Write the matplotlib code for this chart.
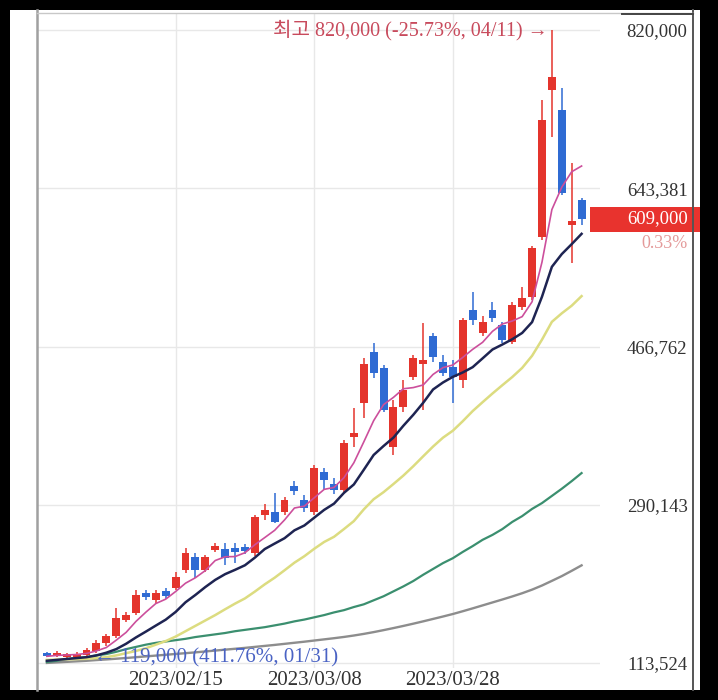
import numpy as np
import pandas as pd
import matplotlib
matplotlib.use('Agg')
import matplotlib.pyplot as plt
import matplotlib.transforms as mtransforms
from matplotlib.patches import Rectangle
from matplotlib.lines import Line2D

plt.rcParams['font.family'] = ['Liberation Serif', 'Noto Sans CJK KR', 'DejaVu Serif']

# trading days shown (03/01 is a market holiday)
dates = pd.bdate_range('2023-01-27', '2023-04-14')
dates = dates[dates != pd.Timestamp('2023-03-01')]

# daily candles, in thousand won
opens = [123.5, 121.5, 121.0, 120.5, 122.5, 127.0, 135.9, 143.7, 161.6, 169.4, 191.7, 183.9, 193.9, 197.3,
         217.4, 231.9, 217.4, 239.7, 240.8, 241.9, 243.0, 236.3, 278.7, 282.1, 282.1, 311.1, 295.5, 282.1,
         326.7, 313.3, 306.6, 365.8, 403.7, 460.6, 442.8, 354.6, 399.3, 432.8, 447.3, 478.5, 449.5, 443.9,
         429.4, 507.5, 481.8, 507.5, 490.8, 471.8, 510.9, 522.0, 589.0, 753.0, 730.7, 602.0, 630.0]
highs = [125.5, 126.5, 124.5, 126.0, 130.3, 139.2, 146.0, 175.0, 170.5, 195.0, 195.0, 195.0, 197.3, 215.1,
         241.9, 236.3, 234.1, 247.5, 247.5, 247.5, 246.0, 279.0, 291.1, 303.3, 298.8, 316.7, 301.1, 334.5,
         331.2, 320.0, 362.0, 398.2, 453.9, 470.7, 446.1, 407.0, 429.4, 457.3, 493.0, 481.8, 457.3, 451.7,
         498.6, 527.6, 500.8, 516.4, 494.1, 516.4, 533.2, 578.9, 741.9, 820.0, 755.3, 671.6, 632.5]
lows = [120.5, 120.5, 119.0, 120.0, 121.0, 125.0, 133.0, 141.5, 159.3, 167.1, 183.9, 180.5, 185.0, 195.0,
        214.0, 208.4, 215.0, 237.0, 222.9, 225.2, 235.0, 233.0, 273.3, 270.0, 278.7, 301.1, 282.1, 278.7,
        306.6, 302.2, 303.0, 354.6, 387.0, 431.7, 393.7, 345.7, 393.7, 429.4, 396.0, 449.5, 433.9, 403.7,
        420.5, 490.8, 478.5, 494.1, 470.7, 469.6, 507.5, 518.7, 585.6, 700.6, 635.9, 560.0, 602.4]
closes = [122.0, 124.5, 123.0, 123.5, 128.0, 135.9, 143.7, 163.8, 167.1, 189.5, 187.2, 191.7, 188.3, 209.6,
          236.3, 217.4, 231.9, 244.2, 230.7, 237.5, 238.6, 276.5, 284.3, 270.9, 295.5, 305.5, 286.6, 331.2,
          317.8, 306.6, 359.1, 370.2, 447.1, 437.2, 396.0, 399.3, 418.2, 453.9, 451.7, 455.1, 437.2, 432.8,
          496.4, 496.4, 494.1, 498.6, 474.0, 513.1, 520.9, 576.7, 719.6, 767.5, 638.1, 607.0, 609.0]

# moving average lines (thousand won)
ma5 = [121.0, 122.0, 122.5, 123.0, 124.2, 127.0, 130.8, 139.0, 147.7, 160.0, 170.3, 179.9, 184.8, 193.3,
       202.6, 208.7, 216.7, 227.9, 232.1, 232.3, 236.6, 245.5, 253.5, 261.6, 273.2, 286.5, 288.6, 297.9,
       307.3, 309.5, 320.3, 337.0, 360.2, 384.0, 401.9, 410.0, 419.6, 420.9, 423.8, 435.6, 443.2, 446.1,
       454.6, 463.6, 471.4, 483.7, 491.9, 495.2, 500.1, 516.7, 560.9, 619.6, 644.6, 661.8, 668.2]
ma10 = [116.0, 117.0, 118.0, 119.0, 120.0, 122.0, 125.0, 129.0, 135.0, 142.1, 148.6, 155.3, 161.9, 170.5,
        181.3, 189.5, 198.3, 206.3, 212.7, 217.5, 222.6, 231.1, 240.7, 246.8, 252.8, 261.6, 267.0, 275.7,
        284.4, 291.4, 303.4, 312.8, 329.1, 345.7, 355.7, 365.1, 378.3, 390.5, 403.9, 418.8, 426.6, 432.9,
        437.8, 443.7, 453.5, 463.4, 469.0, 474.9, 481.9, 494.0, 522.3, 555.7, 569.9, 581.0, 592.5]
ma20 = [117.0, 117.3, 117.6, 117.9, 118.2, 119.0, 120.0, 122.0, 124.5, 127.0, 130.0, 134.0, 138.0, 143.0,
        149.0, 155.0, 161.0, 167.0, 173.5, 179.8, 185.6, 193.2, 201.3, 208.7, 217.0, 225.5, 232.7, 241.0,
        248.6, 254.4, 263.0, 271.9, 284.9, 296.3, 304.2, 313.3, 322.7, 333.1, 344.2, 355.1, 365.0, 372.8,
        383.4, 394.7, 404.6, 414.3, 423.6, 432.7, 442.9, 456.4, 474.4, 494.3, 503.8, 512.3, 523.0]
ma60 = [114.7, 116.0, 118.0, 119.0, 120.0, 122.0, 123.5, 126.0, 129.0, 131.5, 134.0, 136.0, 137.5, 139.0,
        140.5, 142.5, 144.0, 145.5, 147.0, 149.0, 150.5, 152.0, 153.5, 155.5, 157.5, 160.0, 162.0, 164.5,
        167.0, 170.0, 172.5, 176.0, 179.0, 183.5, 188.0, 193.5, 199.0, 205.0, 212.0, 218.5, 225.0, 230.5,
        237.5, 244.0, 251.0, 256.5, 263.0, 271.0, 277.5, 285.5, 292.0, 300.0, 308.0, 316.5, 325.5]
ma120 = [113.6, 114.2, 114.8, 115.4, 116.0, 116.8, 117.5, 118.3, 119.1, 120.0, 120.9, 121.8, 122.7, 123.6,
         124.5, 125.4, 126.4, 127.4, 128.4, 129.4, 130.4, 131.5, 132.6, 133.7, 134.9, 136.1, 137.3, 138.6,
         139.9, 141.2, 142.6, 144.2, 146.0, 148.0, 150.2, 152.5, 154.9, 157.4, 160.0, 162.7, 165.4, 168.2,
         171.3, 174.5, 177.8, 181.1, 184.4, 187.8, 191.4, 195.4, 200.0, 205.2, 210.5, 216.4, 222.5]

y_ticks = [113524, 290143, 466762, 643381, 820000]
x_labels = ['2023/02/15', '2023/03/08', '2023/03/28']

RED = '#e4342c'
BLUE = '#2f6bd3'

o = np.array(opens) * 1000
h = np.array(highs) * 1000
l = np.array(lows) * 1000
c = np.array(closes) * 1000
x = np.arange(len(c))

fig = plt.figure(figsize=(7.18, 7.0), dpi=100, facecolor='black')
fig.patches.append(Rectangle((10 / 718, 10 / 700), 690 / 718, 680 / 700, transform=fig.transFigure,
                             facecolor='white', edgecolor='none', zorder=-5))
ax = fig.add_axes([37 / 718, 32 / 700, 563 / 718, 654 / 700])
ax.set_facecolor('white')

# candles
col = np.where(c >= o, RED, BLUE)
ax.vlines(x, l, h, colors=col, lw=1.1, zorder=2)
body = np.maximum(np.abs(c - o), 2800)
ax.bar(x, body, bottom=(o + c) / 2 - body / 2, width=0.8, color=col, linewidth=0, zorder=3)

# moving averages
ax.plot(x, np.array(ma120) * 1000, color='#8d8d8d', lw=1.7, zorder=4)
ax.plot(x, np.array(ma60) * 1000, color='#3b8f6f', lw=1.6, zorder=4)
ax.plot(x, np.array(ma20) * 1000, color='#dcdc80', lw=1.8, zorder=4)
ax.plot(x, np.array(ma10) * 1000, color='#1e2452', lw=1.8, zorder=5)
ax.plot(x, np.array(ma5) * 1000, color='#cc4f9c', lw=1.2, zorder=5)

ax.set_xlim(-1.0, 55.86)
ax.set_ylim(107944, 837857)

ax.set_yticks(y_ticks)
ax.set_yticklabels([f'{v:,}' for v in y_ticks])
ax.yaxis.tick_right()
ax.tick_params(axis='y', length=0, pad=63, labelsize=13.5, labelcolor='#333333')
for lab in ax.get_yticklabels():
    lab.set_ha('right')

tick_pos = [dates.get_loc(pd.Timestamp(d.replace('/', '-'))) for d in x_labels]
ax.set_xticks(tick_pos)
ax.set_xticklabels(x_labels)
ax.tick_params(axis='x', length=0, pad=2, labelsize=15, labelcolor='#333333')

ax.grid(True, color='#e8e8e8', lw=1)
ax.set_axisbelow(True)
for s in ax.spines.values():
    s.set_visible(False)

# frame lines
fig.add_artist(Line2D([37 / 718, 37 / 718], [10 / 700, 690 / 700], color='#a0a0a0', lw=1.8))
fig.add_artist(Line2D([693 / 718, 693 / 718], [10 / 700, 690 / 700], color='#555555', lw=1.4))
fig.add_artist(Line2D([37 / 718, 693 / 718], [1 - 13 / 700, 1 - 13 / 700], color='#c8c8c8', lw=1))
fig.add_artist(Line2D([622 / 718, 693 / 718], [1 - 14 / 700, 1 - 14 / 700], color='#444444', lw=1.4))

# high / low annotations
last = c[-1]
hi = int(np.argmax(h))
lo = int(np.argmin(l))
ax.annotate(f'최고 {h[hi]:,.0f} ({(last / h[hi] - 1) * 100:.2f}%, {dates[hi]:%m/%d}) →',
            xy=(hi, h[hi]), xytext=(-3, 0), textcoords='offset points',
            ha='right', va='center', color='#c84a5c', fontsize=14.5, zorder=6)
ax.annotate(f'← {l[lo]:,.0f} ({(last / l[lo] - 1) * 100:.2f}%, {dates[lo]:%m/%d})',
            xy=(lo, l[lo]), xytext=(20, 0), textcoords='offset points',
            ha='left', va='center', color='#4a63c4', fontsize=15, zorder=6)

# current price box
trans = mtransforms.blended_transform_factory(ax.transAxes, ax.transData)
ax.add_patch(Rectangle(((590 - 37) / 563, last - 14000), (700 - 590) / 563, 28000, transform=trans,
                       facecolor='#e8332e', edgecolor='none', clip_on=False, zorder=6))
ax.text((688 - 37) / 563, last, f'{last:,.0f}', transform=trans, ha='right', va='center',
        color='white', fontsize=13.5, clip_on=False, zorder=7)
ax.annotate(f'{(last / c[-2] - 1) * 100:.2f}%', xy=((688 - 37) / 563, last), xycoords=trans,
            xytext=(0, -17.5), textcoords='offset points', ha='right', va='center',
            color='#e49a9a', fontsize=13, annotation_clip=False)

fig.savefig('out.png', dpi=100, facecolor='black')
